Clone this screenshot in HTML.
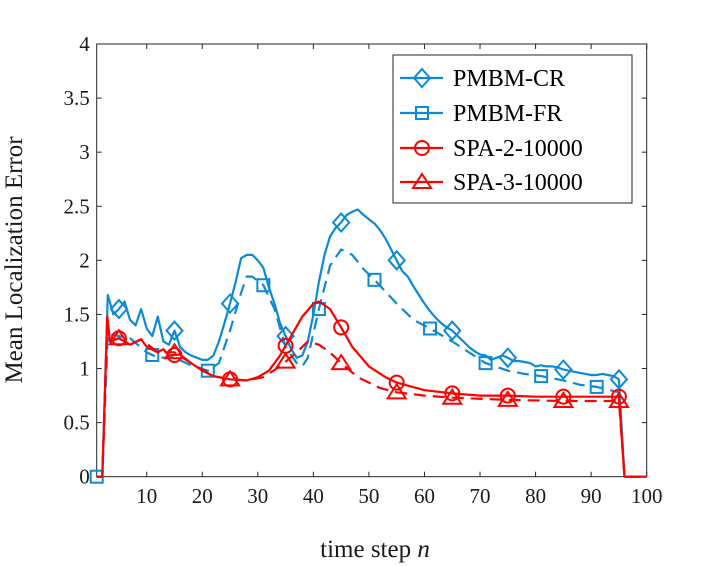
<!DOCTYPE html>
<html><head><meta charset="utf-8">
<style>
html,body{margin:0;padding:0;background:#fff;}
svg{display:block;font-family:"Liberation Serif",serif;}
</style></head>
<body>
<svg id="chart" width="720" height="566" viewBox="0 0 720 566" xmlns="http://www.w3.org/2000/svg">
<g id="axes"></g>
<g id="series"></g>
<g id="legend"></g>
</svg>
<script>
const xTicks = [10,20,30,40,50,60,70,80,90,100];
const yTicks = [0,0.5,1,1.5,2,2.5,3,3.5,4];
const yTickLabels = ["0","0.5","1","1.5","2","2.5","3","3.5","4"];

const crX = [1,2,3,4,5,6,7,8,9,10,11,12,13,14,15,16,17,18,19,20,21,22,23,24,25,26,27,28,29,30,31,32,33,34,35,36,37,38,39,40,41,42,43,44,45,46,47,48,49,50,51,52,53,54,55,56,57,58,59,60,61,62,63,64,65,66,67,68,69,70,71,72,73,74,75,76,77,78,79,80,81,82,83,84,85,86,87,88,89,90,91,92,93,94,95,96,100];
const crY = [0,0,1.68,1.5,1.55,1.62,1.45,1.4,1.55,1.37,1.3,1.48,1.25,1.22,1.35,1.2,1.15,1.12,1.1,1.08,1.08,1.12,1.25,1.42,1.6,1.8,2.02,2.05,2.05,2.0,1.93,1.75,1.6,1.42,1.3,1.18,1.1,1.12,1.25,1.5,1.8,2.05,2.22,2.3,2.35,2.42,2.45,2.47,2.42,2.38,2.34,2.28,2.2,2.1,2.0,1.9,1.85,1.76,1.68,1.6,1.53,1.47,1.42,1.38,1.35,1.3,1.25,1.2,1.16,1.13,1.12,1.08,1.1,1.12,1.1,1.07,1.07,1.06,1.05,1.02,1.03,1.02,1.02,1.01,0.99,0.98,0.97,0.96,0.95,0.94,0.94,0.95,0.94,0.93,0.9,0,0];
const frX = [1,2,3,5,7,10,12,15,18,21,23,25,27,28,29,31,33,35,37,38,39,41,43,45,47,49,51,55,58,61,65,68,71,75,78,81,85,88,91,95,96,100];
const frY = [0,0,1.32,1.3,1.28,1.15,1.1,1.1,1.03,0.98,1.05,1.35,1.7,1.85,1.85,1.77,1.55,1.2,1.05,1.02,1.1,1.55,1.95,2.1,2.05,1.92,1.82,1.6,1.45,1.37,1.25,1.15,1.05,0.98,0.95,0.93,0.89,0.85,0.83,0.78,0,0];
const s2X = [1,2,2.9,3.4,5,7,9,10,12,13,14,16,18,20,22,25,28,30,32,34,36,38,40,41,43,45,47,50,53,55,60,65,70,75,80,85,90,95,96,100];
const s2Y = [0,0,1.48,1.25,1.28,1.22,1.27,1.2,1.15,1.18,1.12,1.13,1.05,0.98,0.93,0.9,0.89,0.92,0.98,1.12,1.3,1.48,1.6,1.62,1.55,1.38,1.2,1.02,0.92,0.87,0.8,0.77,0.75,0.75,0.74,0.74,0.74,0.74,0,0];
const s3X = [1,2,2.9,3.4,5,7,9,12,15,18,22,25,28,31,34,37,39,41,43,45,48,52,55,60,65,75,85,95,96,100];
const s3Y = [0,0,1.45,1.25,1.28,1.22,1.27,1.15,1.15,1.05,0.93,0.9,0.89,0.92,1.02,1.15,1.25,1.22,1.15,1.05,0.92,0.82,0.78,0.75,0.73,0.71,0.7,0.7,0,0];
const crMarkers = [5,15,25,35,45,55,65,75,85,95];
const frMarkers = [1,11,21,31,41,51,61,71,81,91];
const s2Markers = [5,15,25,35,45,55,65,75,85,95];
const s3Markers = [5,15,25,35,45,55,65,75,85,95];
const seriesNames = ["PMBM-CR","PMBM-FR","SPA-2-10000","SPA-3-10000"];

const L=96.7,R=646.7,T=44,B=476.7;
const xS = v => L + (v-1)/(99)*(R-L);
const yS = v => B - v/4*(B-T);
const NS="http://www.w3.org/2000/svg";
function mk(tag,attrs,parent){const e=document.createElementNS(NS,tag);for(const k in attrs)e.setAttribute(k,attrs[k]);parent.appendChild(e);return e;}
function interp(xs,ys,x){for(let i=0;i<xs.length-1;i++){if(x>=xs[i]&&x<=xs[i+1]){const t=(x-xs[i])/(xs[i+1]-xs[i]||1);return ys[i]+t*(ys[i+1]-ys[i]);}}return ys[ys.length-1];}

const axes=document.getElementById('axes');
const box=mk('rect',{x:L,y:T,width:R-L,height:B-T,fill:'none',stroke:'#262626','stroke-width':1},axes);


xTicks.forEach(t=>{
  const x=xS(t);
  mk('line',{x1:x,y1:B,x2:x,y2:B-5,stroke:'#262626'},axes);
  mk('line',{x1:x,y1:T,x2:x,y2:T+5,stroke:'#262626'},axes);
  const tx=mk('text',{x:x,y:503,'text-anchor':'middle','font-size':21,fill:'#1a1a1a'},axes);
  tx.textContent=t;
  
  
});
yTicks.forEach((t,i)=>{
  const y=yS(t);
  mk('line',{x1:L,y1:y,x2:L+5,y2:y,stroke:'#262626'},axes);
  mk('line',{x1:R,y1:y,x2:R-5,y2:y,stroke:'#262626'},axes);
  const tx=mk('text',{x:L-7,y:y+7,'text-anchor':'end','font-size':21,fill:'#1a1a1a'},axes);
  tx.textContent=yTickLabels[i];
  
  
});
const xl=mk('text',{x:375,y:557,'text-anchor':'middle','font-size':25,fill:'#1a1a1a'},axes);
xl.innerHTML='time step <tspan font-style="italic">n</tspan>';


const yl=mk('text',{x:0,y:0,'text-anchor':'middle','font-size':25,fill:'#1a1a1a',transform:'translate(22,260) rotate(-90)'},axes);
yl.textContent='Mean Localization Error';



const BLUE='#0b8ad8',RED='#ff0000';
function marker(type,cx,cy,color,parent){
  let e;
  if(type==='diamond') e=mk('polygon',{points:`${cx},${cy-9} ${cx+8},${cy} ${cx},${cy+9} ${cx-8},${cy}`,fill:'none',stroke:color,'stroke-width':2},parent);
  else if(type==='square') e=mk('rect',{x:cx-6,y:cy-6,width:12,height:12,fill:'none',stroke:color,'stroke-width':2},parent);
  else if(type==='circle') e=mk('circle',{cx:cx,cy:cy,r:7,fill:'none',stroke:color,'stroke-width':2},parent);
  else e=mk('polygon',{points:`${cx},${cy-8} ${cx+9},${cy+6} ${cx-9},${cy+6}`,fill:'none',stroke:color,'stroke-width':2},parent);
  return e;
}
const seriesDefs=[
  {name:'pmbm-cr',xs:crX,ys:crY,m:crMarkers,color:BLUE,dash:'',type:'diamond'},
  {name:'pmbm-fr',xs:frX,ys:frY,m:frMarkers,color:BLUE,dash:'12,7',type:'square'},
  {name:'spa-2-10000',xs:s2X,ys:s2Y,m:s2Markers,color:RED,dash:'',type:'circle'},
  {name:'spa-3-10000',xs:s3X,ys:s3Y,m:s3Markers,color:RED,dash:'12,7',type:'triangle'}
];
const sg=document.getElementById('series');
seriesDefs.forEach(s=>{
  const g=mk('g',{},sg);
  
  
  const d=s.xs.map((x,i)=>(i?'L':'M')+xS(x).toFixed(1)+','+yS(s.ys[i]).toFixed(1)).join(' ');
  const p=mk('path',{d:d,fill:'none',stroke:s.color,'stroke-width':2.2,'stroke-dasharray':s.dash,'stroke-linejoin':'round'},g);
  
  
  s.m.forEach(n=>{
    const e=marker(s.type,xS(n),yS(interp(s.xs,s.ys,n)),s.color,g);
    
    
  });
});

const lg=document.getElementById('legend');
const lb=mk('rect',{x:393,y:55,width:239,height:148,fill:'#fff',stroke:'#262626','stroke-width':1},lg);


const ly=[78,113,148,182];
seriesDefs.forEach((s,i)=>{
  const g=mk('g',{},lg);
  
  
  mk('line',{x1:400,y1:ly[i],x2:443,y2:ly[i],stroke:s.color,'stroke-width':2.2},g);
  marker(s.type,422,ly[i],s.color,g);
  const t=mk('text',{x:453,y:ly[i]+8,'font-size':24,fill:'#000'},g);
  t.textContent=seriesNames[i];
});
</script>
</body></html>
